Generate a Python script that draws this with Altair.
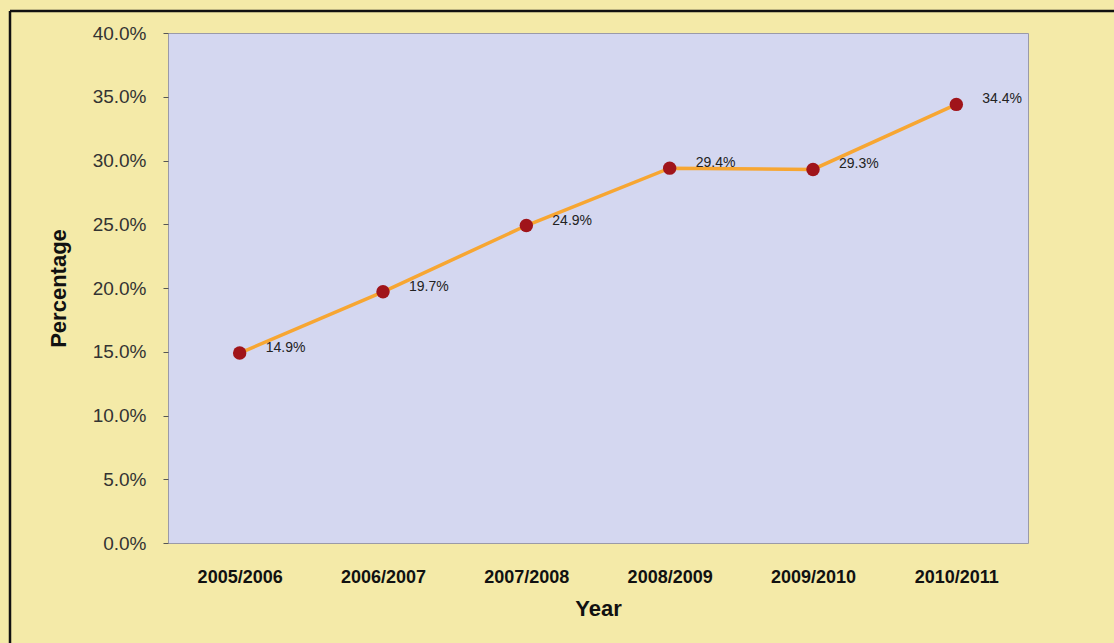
import altair as alt
import pandas as pd

years = ["2005/2006", "2006/2007", "2007/2008", "2008/2009", "2009/2010", "2010/2011"]
values = [14.9, 19.7, 24.9, 29.4, 29.3, 34.4]
y_ticks = [0, 5, 10, 15, 20, 25, 30, 35, 40]

df = pd.DataFrame({"Year": years, "Pct": [v / 100 for v in values]})

FONT = "Liberation Sans"

x = alt.X("Year:N", sort=years, title="Year",
          scale=alt.Scale(type="point", padding=0.5),
          axis=alt.Axis(labelAngle=0, labelFontWeight="bold", labelFontSize=18,
                        labelColor="#111", labelPadding=25, ticks=False, domain=False,
                        titleFontSize=22, titleFontWeight="bold", titlePadding=12,
                        titleColor="#111"))
y = alt.Y("Pct:Q", title="Percentage",
          scale=alt.Scale(domain=[0, 0.4], nice=False),
          axis=alt.Axis(format=".1%", values=[t / 100 for t in y_ticks], grid=False,
                        labelFontSize=19, labelColor="#333", tickSize=5, tickColor="#555",
                        labelPadding=17, domain=False,
                        titleFontSize=22, titleFontWeight="bold", titlePadding=22,
                        titleColor="#111"))

base = alt.Chart(df)
line = base.mark_line(color="#f7a632", strokeWidth=3.5).encode(x=x, y=y)
pts = base.mark_point(filled=True, color="#a0141a", size=180, opacity=1).encode(x=x, y=y)
labels = base.mark_text(align="left", dx=26, dy=-5, fontSize=14, color="#222").encode(
    x=x, y=y, text=alt.Text("Pct:Q", format=".1%"))

frame_df = pd.DataFrame({"a": [0]})
frame_left = alt.Chart(frame_df).mark_rule(color="#111", strokeWidth=2.5).encode(
    x=alt.value(-158), y=alt.value(-22), y2=alt.value(620))
frame_top = alt.Chart(frame_df).mark_rule(color="#111", strokeWidth=2.5).encode(
    x=alt.value(-158), x2=alt.value(960), y=alt.value(-22))

chart = alt.layer(line, pts, labels, frame_left, frame_top).properties(
    width=860, height=510,
    autosize=alt.AutoSizeParams(type="none"),
    padding={"left": 168, "top": 33, "right": 86, "bottom": 100},
    background="#f4eaa8",
    view=alt.ViewBackground(fill="#d4d7f0", stroke="#9a9aa8", strokeWidth=1),
).configure(font=FONT)

chart.save("out.html", embed_options={"renderer": "svg", "actions": False})
